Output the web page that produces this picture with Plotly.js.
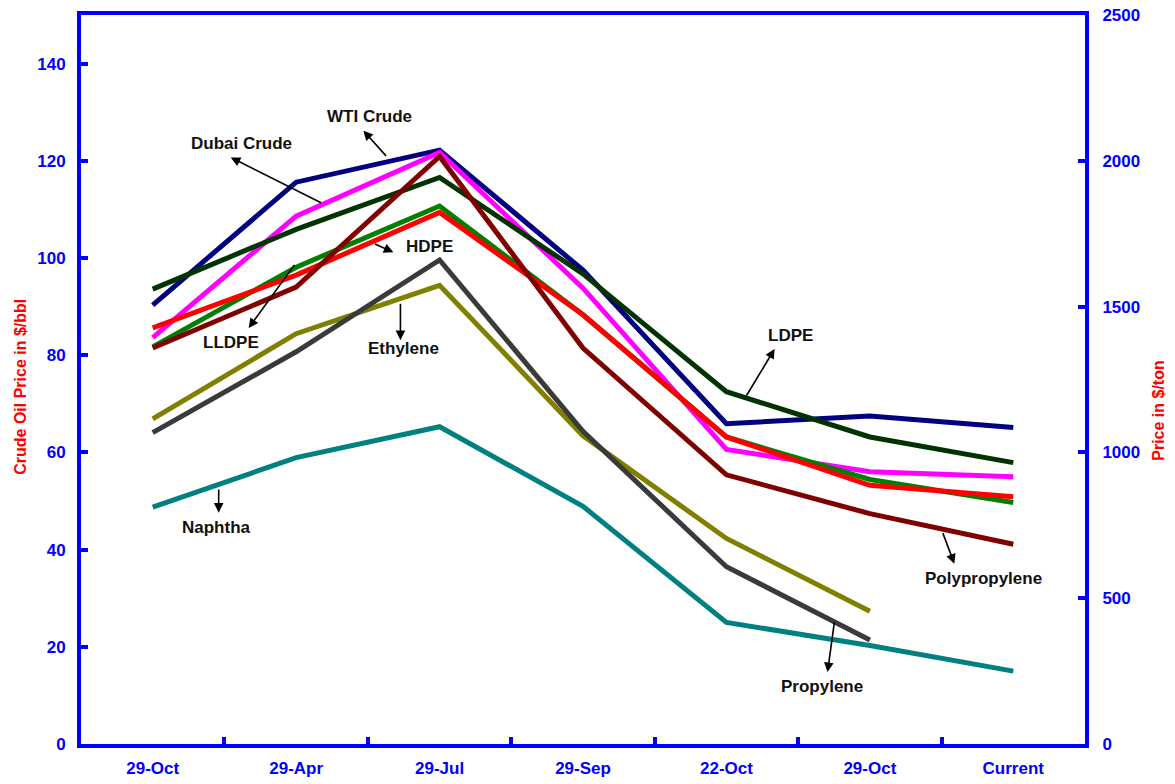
<!DOCTYPE html>
<html>
<head>
<meta charset="utf-8">
<script src="https://cdn.plot.ly/plotly-3.0.1.min.js"></script>
<style>html,body{margin:0;padding:0;background:#fff;}#chart{width:1175px;height:784px;}</style>
</head>
<body>
<div id="chart"></div>
<script>
// Categories (x positions 0..6)
var categories = ["29-Oct", "29-Apr", "29-Jul", "29-Sep", "22-Oct", "29-Oct", "Current"];
var xIdx = [0, 1, 2, 3, 4, 5, 6];

// Crude oil prices ($/bbl, left axis)
var wtiCrude   = [90.3, 115.6, 122.2, 97.5, 65.9, 67.5, 65.1];
var dubaiCrude = [83.6, 108.6, 121.7, 93.8, 60.6, 56.0, 55.0];

// Petrochemical prices ($/ton, right axis)
var ldpe          = [1560, 1765, 1943, 1612, 1208, 1053, 965];
var lldpe         = [1362, 1635, 1845, 1472, 1053, 907, 828];
var hdpe          = [1427, 1608, 1823, 1472, 1053, 887, 848];
var polypropylene = [1358, 1567, 2015, 1358, 923, 790, 685];
var ethylene      = [1115, 1407, 1573, 1057, 705, 455, null];
var propylene     = [1068, 1345, 1660, 1072, 608, 357, null];
var naphtha       = [812, 982, 1088, 815, 417, 338, 250];

var FONT = "Liberation Sans, Arial, Helvetica, sans-serif";

function tr(name, y, color, axis) {
  return {x: xIdx, y: y, name: name, type: "scatter", mode: "lines",
          yaxis: axis, line: {color: color, width: 5}, connectgaps: false,
          hoverinfo: "name+y"};
}

var data = [
  tr("Naphtha", naphtha, "#008080", "y2"),
  tr("Ethylene", ethylene, "#808000", "y2"),
  tr("Propylene", propylene, "#3a3a3a", "y2"),
  tr("LDPE", ldpe, "#003300", "y2"),
  tr("WTI Crude", wtiCrude, "#000080", "y"),
  tr("Dubai Crude", dubaiCrude, "#FF00FF", "y"),
  tr("LLDPE", lldpe, "#008000", "y2"),
  tr("HDPE", hdpe, "#FF0000", "y2"),
  tr("Polypropylene", polypropylene, "#800000", "y2")
];

// label annotations: [text, x, y]
var labels = [
  ["WTI Crude", 1.514, 129.1],
  ["Dubai Crude", 0.617, 123.5],
  ["HDPE", 1.928, 102.4],
  ["LLDPE", 0.544, 82.6],
  ["Ethylene", 1.748, 81.3],
  ["Naphtha", 0.446, 44.5],
  ["LDPE", 4.447, 84.1],
  ["Polypropylene", 5.790, 34.1],
  ["Propylene", 4.663, 11.9]
];
// arrows: [headX, headY, tailX, tailY]
var arrows = [
  [1.469, 126.2, 1.636, 120.7],
  [0.544, 120.7, 1.184, 111.2],
  [1.678, 101.2, 1.539, 103.0],
  [0.669, 85.6, 0.996, 98.9],
  [1.727, 83.1, 1.727, 90.9],
  [0.460, 47.6, 0.460, 52.7],
  [4.336, 81.3, 4.134, 71.4],
  [5.589, 37.1, 5.505, 43.7],
  [4.705, 14.8, 4.754, 25.4]
];

var annotations = [];
labels.forEach(function (l) {
  annotations.push({text: "<b>" + l[0] + "</b>", x: l[1], y: l[2], xref: "x", yref: "y",
    showarrow: false, xanchor: "center", yanchor: "middle",
    font: {family: FONT, size: 17, color: "#111111"}});
});
arrows.forEach(function (a) {
  annotations.push({text: "", x: a[0], y: a[1], ax: a[2], ay: a[3], xref: "x", yref: "y",
    axref: "x", ayref: "y", showarrow: true, arrowhead: 2, arrowsize: 1.2, arrowwidth: 1.6,
    arrowcolor: "#000000", standoff: 0, startstandoff: 0});
});
annotations.push({text: "<b>Crude Oil Price in $/bbl</b>", xref: "paper", yref: "paper",
  x: -0.061, y: 0.4897, xanchor: "center", yanchor: "middle", textangle: -90, showarrow: false,
  font: {family: FONT, size: 16, color: "#FF0000"}});
annotations.push({text: "<b>Price in $/ton</b>", xref: "paper", yref: "paper",
  x: 1.0736, y: 0.457, xanchor: "center", yanchor: "middle", textangle: -90, showarrow: false,
  font: {family: FONT, size: 16, color: "#FF0000"}});

var layout = {
  width: 1175, height: 784,
  margin: {l: 81, r: 90, t: 15, b: 40, pad: 0},
  paper_bgcolor: "#ffffff", plot_bgcolor: "#ffffff",
  showlegend: false,
  font: {family: FONT},
  xaxis: {
    range: [-0.5, 6.5], tickmode: "array", tickvals: xIdx, ticktext: categories,
    ticks: "", showgrid: false, zeroline: false,
    showline: true, linecolor: "#0000FF", linewidth: 4, mirror: true,
    tickfont: {family: FONT, size: 17, color: "#0000FF", weight: "bold"},
    ticklabelstandoff: 6,
    minor: {tickmode: "array", tickvals: [0.5, 1.5, 2.5, 3.5, 4.5, 5.5],
            ticks: "inside", ticklen: 7, tickwidth: 4, tickcolor: "#0000FF", showgrid: false}
  },
  yaxis: {
    range: [0, 150], tickmode: "linear", tick0: 0, dtick: 20,
    ticks: "inside", ticklen: 7, tickwidth: 4, tickcolor: "#0000FF",
    showgrid: false, zeroline: false,
    showline: true, linecolor: "#0000FF", linewidth: 4,
    tickfont: {family: FONT, size: 17, color: "#0000FF", weight: "bold"},
    ticklabelstandoff: 8
  },
  yaxis2: {
    range: [0, 2500], tickmode: "linear", tick0: 0, dtick: 500,
    overlaying: "y", side: "right",
    ticks: "inside", ticklen: 7, tickwidth: 4, tickcolor: "#0000FF",
    showgrid: false, zeroline: false,
    showline: true, linecolor: "#0000FF", linewidth: 4,
    tickfont: {family: FONT, size: 17, color: "#0000FF", weight: "bold"},
    ticklabelstandoff: 10
  },
  annotations: annotations
};

Plotly.newPlot("chart", data, layout, {displayModeBar: false, staticPlot: true});
</script>
</body>
</html>
